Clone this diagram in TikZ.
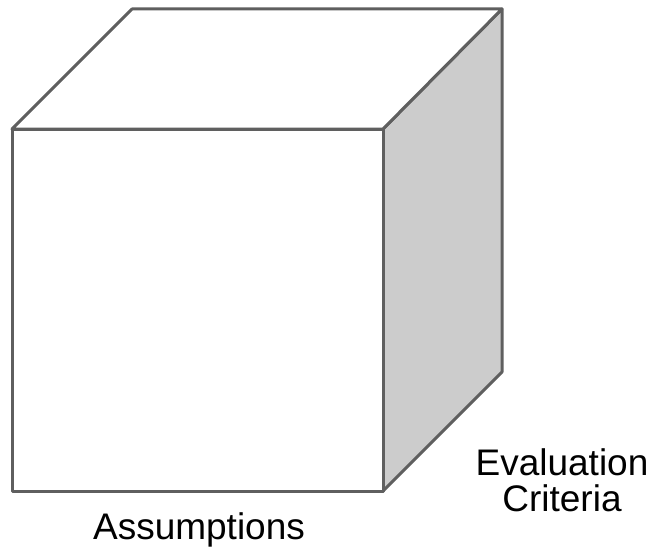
\documentclass[tikz,border=0pt]{standalone}
\usepackage{fontspec}
\setmainfont{Liberation Sans}
\begin{document}
\begin{tikzpicture}[x=1pt,y=-1pt,
  edge/.style={draw=cubeline,line width=3pt,line join=round},
  lbl/.style={font=\fontsize{37}{36}\selectfont,text=black,align=center,inner sep=0pt}]
\definecolor{cubeline}{HTML}{5F5F5F}
\definecolor{sideface}{HTML}{CCCCCC}
\useasboundingbox (0,0) rectangle (652,551);
\coordinate (ftl) at (12,129);
\coordinate (ftr) at (383,129);
\coordinate (fbr) at (383,491);
\coordinate (fbl) at (12,491);
\coordinate (btl) at (132,9);
\coordinate (btr) at (502,9);
\coordinate (bbr) at (502,372);
\path[edge,fill=sideface] (ftr) -- (btr) -- (bbr) -- (fbr) -- cycle;
\path[edge,fill=white] (ftl) -- (btl) -- (btr) -- (ftr) -- cycle;
\path[edge,fill=white] (ftl) rectangle (fbr);
\node[lbl] (eval) at (562,480) {Evaluation\\Criteria};
\node[lbl] (assm) at (199,530) {Assumptions};
\end{tikzpicture}
\end{document}
